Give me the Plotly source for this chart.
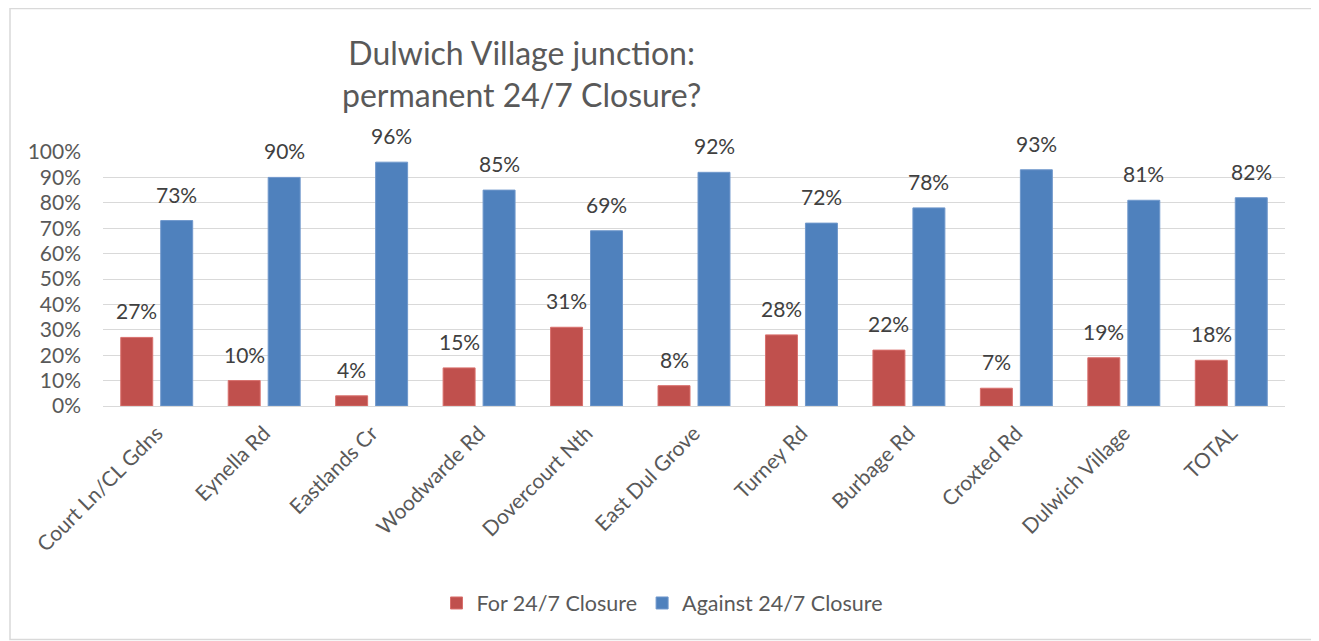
import plotly.graph_objects as go

categories = ["Court Ln/CL Gdns", "Eynella Rd", "Eastlands Cr", "Woodwarde Rd", "Dovercourt Nth",
              "East Dul Grove", "Turney Rd", "Burbage Rd", "Croxted Rd", "Dulwich Village", "TOTAL"]
for_closure = [0.27, 0.10, 0.04, 0.15, 0.31, 0.08, 0.28, 0.22, 0.07, 0.19, 0.18]
against_closure = [0.73, 0.90, 0.96, 0.85, 0.69, 0.92, 0.72, 0.78, 0.93, 0.81, 0.82]
series_names = ["For 24/7 Closure", "Against 24/7 Closure"]
title_lines = ["Dulwich Village junction:", "permanent 24/7 Closure?"]

# page body has an 8px margin: size the figure so the screenshot lines up
OFF = 8
W, H = 1319 - OFF, 641 - OFF
L, R, T, B = 103 - OFF, 34, 152 - OFF, 235
pw, ph = W - L - R, H - T - B
FONT = "Lato, Calibri, sans-serif"


def px(x):  # screenshot pixel x -> paper
    return (x - OFF - L) / pw


def py(y):  # screenshot pixel y -> paper
    return (H - B - (y - OFF)) / ph


fig = go.Figure()
fig.add_trace(go.Bar(x=categories, y=for_closure, name=series_names[0],
                     marker=dict(color="#c0504d", line=dict(color="#d9706d", width=1))))
fig.add_trace(go.Bar(x=categories, y=against_closure, name=series_names[1],
                     marker=dict(color="#4f81bd", line=dict(color="#7098cc", width=1))))

annotations = [
    dict(text="<br>".join(title_lines), xref="paper", yref="paper", x=px(521), y=py(73),
         xanchor="center", yanchor="middle", align="center", showarrow=False,
         font=dict(size=32, color="#595959", family=FONT)),
]
for vals, xs in ((for_closure, -20), (against_closure, 20)):
    for c, v in zip(categories, vals):
        annotations.append(dict(x=c, y=v, xref="x", yref="y", text=f"{v:.0%}", showarrow=False,
                                xanchor="center", yanchor="bottom", xshift=xs, yshift=12,
                                font=dict(size=21, color="#404040", family=FONT)))

fig.update_layout(
    width=W, height=H,
    margin=dict(l=L, r=R, t=T, b=B, autoexpand=False),
    paper_bgcolor="white", plot_bgcolor="white",
    barmode="group", bargap=0.256, bargroupgap=0.2,
    font=dict(family=FONT, color="#595959"),
    showlegend=True,
    legend=dict(orientation="h", xref="container", yref="container", x=(662 - OFF) / W, xanchor="center",
                y=1 - (603 - OFF) / H, yanchor="middle", font=dict(size=21.5, color="#595959"),
                traceorder="normal"),
    xaxis=dict(tickangle=-45, tickfont=dict(size=21, color="#595959"), showline=False,
               ticks="", showgrid=False, ticklabelstandoff=10),
    yaxis=dict(range=[0, 1], dtick=0.1, tickformat=".0%", showgrid=True, gridcolor="#d9d9d9",
               gridwidth=1, zeroline=True, zerolinecolor="#d9d9d9", zerolinewidth=1,
               tickfont=dict(size=21, color="#595959"), ticks="", ticklabelstandoff=21),
    shapes=[dict(type="rect", xref="paper", yref="paper",
                 x0=px(10), x1=px(1313), y0=py(639.5), y1=py(8.5),
                 line=dict(color="#d9d9d9", width=1.5), fillcolor="rgba(0,0,0,0)", layer="below")],
    annotations=annotations,
)

fig.write_html("out.html")
